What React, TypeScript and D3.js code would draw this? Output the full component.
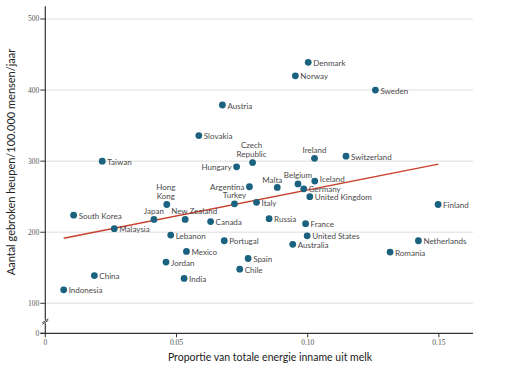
import React from "react";
import * as d3 from "d3";

// proportion of total energy intake from milk vs hip fractures per 100,000 people/year
const countries = [
  "Indonesia", "China", "South Korea", "Malaysia", "Taiwan", "Japan", "Hong Kong",
  "New Zealand", "Lebanon", "Mexico", "Jordan", "India", "Canada", "Portugal",
  "Slovakia", "Austria", "Hungary", "Turkey", "Argentina", "Chile", "Spain",
  "Czech Republic", "Italy", "Russia", "Malta", "Australia", "Norway", "Belgium",
  "Germany", "France", "United States", "Denmark", "United Kingdom", "Ireland",
  "Iceland", "Switzerland", "Sweden", "Romania", "Netherlands", "Finland",
];
const milk = [
  0.007, 0.0187, 0.0108, 0.0263, 0.0217, 0.0414, 0.0463,
  0.0533, 0.0478, 0.0538, 0.046, 0.0529, 0.063, 0.0682,
  0.0585, 0.0675, 0.0729, 0.0721, 0.0778, 0.0741, 0.0773,
  0.079, 0.0805, 0.0853, 0.0884, 0.0943, 0.0953, 0.0963,
  0.0985, 0.0992, 0.0998, 0.1002, 0.1008, 0.1026,
  0.1027, 0.1146, 0.1258, 0.1314, 0.1422, 0.1497,
];
const fractures = [
  119, 139, 224, 205, 300, 218, 239,
  218, 196, 173, 158, 135, 215, 188,
  336, 379, 292, 240, 264, 148, 163,
  298, 242, 219, 263, 183, 420, 268,
  261, 212, 195, 439, 250, 304,
  272, 307, 400, 172, 188, 239,
];
const trendX = [0.007, 0.1498];
const trendY = [191.6, 295.8];
const yTicks = [0, 100, 200, 300, 400, 500];
const gridTicks = [100, 200, 300, 400, 500];
const xTicks = [0, 0.05, 0.1, 0.15];
const xTickLabels = ["0", "0.05", "0.10", "0.15"];

// label placement (layout only)
const labelPlace: Record<string, string> = {
  Japan: "above",
  "Hong Kong": "above2",
  "New Zealand": "aboveRight",
  Turkey: "above",
  Argentina: "left",
  Hungary: "left",
  "Czech Republic": "above2",
  Malta: "aboveLeft",
  Belgium: "above",
  Ireland: "above",
  Iceland: "rightUp",
};

const W = 506;
const H = 374;
const DOT = "#1b6281";
const LABEL = "#4a4a4a";
const FONT = "Lato, 'Open Sans', sans-serif";

export default function App() {
  const x = d3.scaleLinear().domain([0, 0.163]).range([45.3, 473]);
  // broken axis: 0..100 compressed
  const y = d3.scaleLinear().domain([0, 100, 518]).range([333.3, 303.3, 6.2]);

  const trend = d3
    .line<number>()
    .x((d) => x(d))
    .y((_, i) => y(trendY[i]));

  const renderLabel = (name: string, px: number, py: number) => {
    const place = labelPlace[name] || "right";
    const common = { fontSize: 8, fill: LABEL, fontFamily: FONT };
    if (place === "left")
      return (
        <text x={px - 5} y={py + 3} textAnchor="end" {...common}>
          {name}
        </text>
      );
    if (place === "above")
      return (
        <text x={px} y={py - 5.5} textAnchor="middle" {...common}>
          {name}
        </text>
      );
    if (place === "aboveRight")
      return (
        <text x={px + 9} y={py - 5.5} textAnchor="middle" {...common}>
          {name}
        </text>
      );
    if (place === "aboveLeft")
      return (
        <text x={px - 5} y={py - 4.5} textAnchor="middle" {...common}>
          {name}
        </text>
      );
    if (place === "rightUp")
      return (
        <text x={px + 5} y={py + 1.3} {...common}>
          {name}
        </text>
      );
    if (place === "above2") {
      const parts = name.split(" ");
      return (
        <text x={px - 1} y={py - 14.5} textAnchor="middle" {...common}>
          <tspan x={px - 1}>{parts[0]}</tspan>
          <tspan x={px - 1} dy={9}>
            {parts.slice(1).join(" ")}
          </tspan>
        </text>
      );
    }
    return (
      <text x={px + 5} y={py + 3.6} {...common}>
        {name}
      </text>
    );
  };

  const x0 = x(0);
  const xEnd = x.range()[1];

  return (
    <div style={{ position: "absolute", left: 0, top: 0 }}>
      <svg width={W} height={H} style={{ display: "block", background: "#fff" }}>
        {/* gridlines */}
        {gridTicks.map((t) => (
          <line key={"g" + t} x1={x0} x2={xEnd} y1={y(t)} y2={y(t)} stroke="#e8e8e8" strokeWidth={1.5} />
        ))}

        {/* axes */}
        <line x1={x0} x2={x0} y1={y(518)} y2={y(0)} stroke="#333" strokeWidth={1.2} />
        <line x1={x0 - 5} x2={xEnd} y1={y(0)} y2={y(0)} stroke="#333" strokeWidth={1.2} />
        {/* axis break */}
        <rect x={x0 - 3} y={y(0) - 13.5} width={6} height={3.5} fill="#fff" />
        <line x1={x0 - 3} x2={x0 + 3} y1={y(0) - 9} y2={y(0) - 13} stroke="#333" strokeWidth={0.9} />
        <line x1={x0 - 3} x2={x0 + 3} y1={y(0) - 10.5} y2={y(0) - 14.5} stroke="#333" strokeWidth={0.9} />

        {yTicks.map((t) => (
          <g key={"yt" + t}>
            <line x1={x0 - 5} x2={x0} y1={y(t)} y2={y(t)} stroke="#333" strokeWidth={1} />
            <text x={x0 - 6} y={y(t) + 2.5} textAnchor="end" fontSize={7.5} fill="#555" fontFamily="'Liberation Serif', serif">
              {t}
            </text>
          </g>
        ))}
        {xTicks.map((t, i) => (
          <g key={"xt" + t}>
            <line x1={x(t)} x2={x(t)} y1={y(0)} y2={y(0) + 4} stroke="#333" strokeWidth={1} />
            <text x={x(t)} y={y(0) + 12} textAnchor="middle" fontSize={7.5} fill="#555" fontFamily="'Liberation Serif', serif">
              {xTickLabels[i]}
            </text>
          </g>
        ))}

        {/* axis titles */}
        <text
          transform={`translate(15,${162}) rotate(-90)`}
          textAnchor="middle"
          fontSize={11}
          fill="#222"
          fontFamily={FONT}
        >
          Aantal gebroken heupen/100.000 mensen/jaar
        </text>
        <text x={270} y={360.5} textAnchor="middle" fontSize={10.5} fill="#222" fontFamily={FONT}>
          Proportie van totale energie inname uit melk
        </text>

        {/* trend line */}
        <path d={trend(trendX) || ""} fill="none" stroke="#c8412a" strokeWidth={1.5} />

        {/* points */}
        {countries.map((c, i) => (
          <g key={c}>
            <circle cx={x(milk[i])} cy={y(fractures[i])} r={3.4} fill={DOT} />
            {renderLabel(c, x(milk[i]), y(fractures[i]))}
          </g>
        ))}
      </svg>
    </div>
  );
}
